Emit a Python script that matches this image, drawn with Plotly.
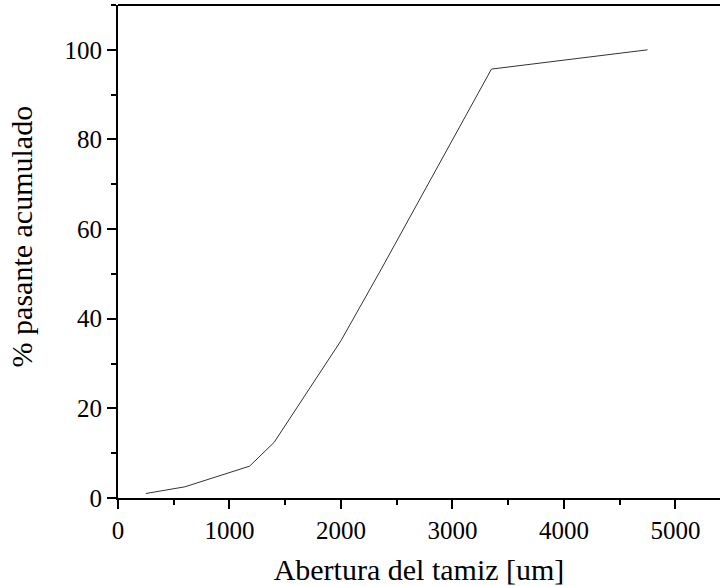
import plotly.graph_objects as go

# Sieve opening (um) and cumulative % passing
abertura_um = [250, 600, 1180, 1400, 2000, 2360, 3350, 4750]
pasante_acum = [1.0, 2.5, 7.1, 12.4, 35.1, 51.0, 95.7, 100.0]

x_ticks = [0, 1000, 2000, 3000, 4000, 5000]
y_ticks = [0, 20, 40, 60, 80, 100]

font_family = "Liberation Serif, Times New Roman, serif"

fig = go.Figure()
fig.add_trace(go.Scatter(
    x=abertura_um,
    y=pasante_acum,
    mode="lines",
    line=dict(color="#333333", width=1),
    showlegend=False,
))

axis_common = dict(
    showline=True,
    linecolor="black",
    linewidth=2,
    showgrid=False,
    zeroline=False,
    ticks="outside",
    ticklen=9,
    tickwidth=2,
    tickcolor="black",
    tickfont=dict(family=font_family, size=25, color="black"),
)

fig.update_xaxes(
    **axis_common,
    range=[0, 5400],
    tickvals=x_ticks,
    minor=dict(ticks="outside", ticklen=5, tickwidth=2, tickcolor="black", dtick=500, tick0=0),
    title=dict(text="Abertura del tamiz [um]", font=dict(family=font_family, size=30, color="black"), standoff=16),
)
fig.update_yaxes(
    **axis_common,
    range=[0, 110],
    tickvals=y_ticks,
    minor=dict(ticks="outside", ticklen=5, tickwidth=2, tickcolor="black", dtick=10, tick0=0),
)

# Y-axis title placed as a rotated annotation
fig.add_annotation(
    text="% pasante acumulado",
    xref="paper", yref="paper",
    x=-0.16, y=0.53,
    xanchor="center", yanchor="middle",
    textangle=-90,
    showarrow=False,
    font=dict(family=font_family, size=30, color="black"),
)

# Top border line of the plot frame
fig.add_shape(type="line", xref="paper", yref="paper", x0=0, x1=1, y0=1, y1=1,
              line=dict(color="black", width=2))

fig.update_layout(
    width=720,
    height=586,
    margin=dict(l=118, r=0, t=5, b=88),
    plot_bgcolor="white",
    paper_bgcolor="white",
    font=dict(family=font_family, color="black"),
)

fig.write_html("out.html")
